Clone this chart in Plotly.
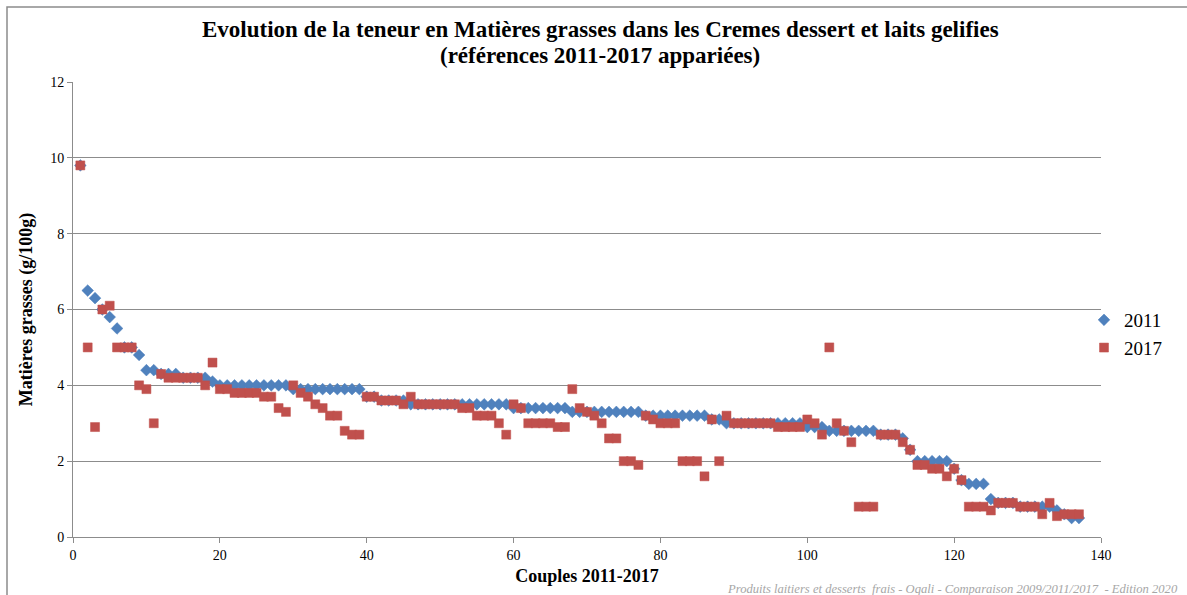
import plotly.graph_objects as go

couples = list(range(1, 138))

mg_2011 = (
    [9.8, 6.5, 6.3, 6.0, 5.8, 5.5, 5.0, 5.0, 4.8, 4.4,
     4.4, 4.3, 4.3, 4.3, 4.2, 4.2, 4.2, 4.2, 4.1]
    + [4.0] * 10          # 20-29
    + [3.9] * 10          # 30-39
    + [3.7, 3.7, 3.6, 3.6, 3.6, 3.6]   # 40-45
    + [3.5] * 14          # 46-59
    + [3.4] * 8           # 60-67
    + [3.3] * 10          # 68-77
    + [3.2] * 9           # 78-86
    + [3.1, 3.1]          # 87-88
    + [3.0] * 11          # 89-99
    + [2.9] * 3           # 100-102
    + [2.8] * 7           # 103-109
    + [2.7] * 3           # 110-112
    + [2.6, 2.3]          # 113-114
    + [2.0] * 5           # 115-119
    + [1.8, 1.5]          # 120-121
    + [1.4] * 3           # 122-124
    + [1.0]               # 125
    + [0.9] * 3           # 126-128
    + [0.8] * 5           # 129-133
    + [0.7, 0.6, 0.5, 0.5]  # 134-137
)

mg_2017 = (
    [9.8, 5.0, 2.9, 6.0, 6.1, 5.0, 5.0, 5.0, 4.0, 3.9,
     3.0, 4.3, 4.2, 4.2, 4.2, 4.2, 4.2, 4.0, 4.6, 3.9,
     3.9, 3.8, 3.8, 3.8, 3.8, 3.7, 3.7, 3.4, 3.3, 4.0,
     3.8, 3.7, 3.5, 3.4, 3.2, 3.2, 2.8, 2.7, 2.7, 3.7,
     3.7, 3.6, 3.6, 3.6, 3.5, 3.7, 3.5, 3.5, 3.5, 3.5,
     3.5, 3.5, 3.4, 3.4, 3.2, 3.2, 3.2, 3.0, 2.7, 3.5,
     3.4, 3.0, 3.0, 3.0, 3.0, 2.9, 2.9, 3.9, 3.4, 3.3,
     3.2, 3.0, 2.6, 2.6, 2.0, 2.0, 1.9, 3.2, 3.1, 3.0,
     3.0, 3.0, 2.0, 2.0, 2.0, 1.6, 3.1, 2.0, 3.2, 3.0,
     3.0, 3.0, 3.0, 3.0, 3.0, 2.9, 2.9, 2.9, 2.9, 3.1,
     3.0, 2.7, 5.0, 3.0, 2.8, 2.5, 0.8, 0.8, 0.8, 2.7,
     2.7, 2.7, 2.5, 2.3, 1.9, 1.9, 1.8, 1.8, 1.6, 1.8,
     1.5, 0.8, 0.8, 0.8, 0.7, 0.9, 0.9, 0.9, 0.8, 0.8,
     0.8, 0.6, 0.9, 0.55, 0.6, 0.6, 0.6]
)

x_ticks = [0, 20, 40, 60, 80, 100, 120, 140]
y_ticks = [0, 2, 4, 6, 8, 10, 12]

title_line1 = "Evolution de la teneur en Matières grasses dans les Cremes dessert et laits gelifies"
title_line2 = "(références 2011-2017 appariées)"
x_title = "Couples 2011-2017"
y_title = "Matières grasses (g/100g)"
footer = "Produits laitiers et desserts  frais - Oqali - Comparaison 2009/2011/2017  - Edition 2020"

SERIF = "Liberation Serif, DejaVu Serif, serif"
GRID = "#8c8c8c"

L, R, T, B = 73, 86, 82, 58
W, H = 1187, 595
PW, PH = W - L - R, H - T - B


def px_x(px):
    return (px - L) / PW


def px_y(py):
    return (H - B - py) / PH


fig = go.Figure()
fig.add_trace(go.Scatter(
    x=couples, y=mg_2011, mode="markers", name="2011",
    marker=dict(symbol="diamond", size=9, color="#4F81BD",
                line=dict(width=0.5, color="#4F81BD")),
))
fig.add_trace(go.Scatter(
    x=couples, y=mg_2017, mode="markers", name="2017",
    marker=dict(symbol="square", size=9, color="#C0504D",
                line=dict(width=0.5, color="#C0504D")),
))

fig.update_layout(
    width=W, height=H,
    margin=dict(l=L, r=R, t=T, b=B),
    paper_bgcolor="white", plot_bgcolor="white",
    font=dict(family=SERIF, color="black"),
    showlegend=True,
    legend=dict(x=px_x(1084), y=px_y(334), xanchor="left", yanchor="middle",
                font=dict(family=SERIF, size=19, color="black"),
                bgcolor="rgba(0,0,0,0)", itemwidth=30, tracegroupgap=2),
    xaxis=dict(range=[0, 140], tickvals=x_ticks, ticks="outside", ticklen=5,
               tickcolor=GRID, showline=True, linecolor=GRID, linewidth=1,
               showgrid=False, zeroline=False,
               tickfont=dict(family=SERIF, size=14, color="black"),
               title=dict(text="<b>" + x_title + "</b>", standoff=7,
                          font=dict(family=SERIF, size=18, color="black"))),
    yaxis=dict(range=[0, 12], tickvals=y_ticks, ticks="outside", ticklen=5,
               tickcolor=GRID, showline=True, linecolor=GRID, linewidth=1,
               showgrid=True, gridcolor=GRID, gridwidth=1, zeroline=False,
               tickfont=dict(family=SERIF, size=14, color="black"),
               title=dict(text="<b>" + y_title + "</b>", standoff=12,
                          font=dict(family=SERIF, size=18, color="black"))),
)

# title, two lines placed individually to match the tight line spacing
fig.add_annotation(text="<b>" + title_line1 + "</b>", xref="paper", yref="paper",
                   x=px_x(600), y=px_y(30), xanchor="center", yanchor="middle",
                   showarrow=False, font=dict(family=SERIF, size=23, color="black"))
fig.add_annotation(text="<b>" + title_line2 + "</b>", xref="paper", yref="paper",
                   x=px_x(600), y=px_y(55), xanchor="center", yanchor="middle",
                   showarrow=False, font=dict(family=SERIF, size=23, color="black"))

# outer chart border (as in the source spreadsheet chart)
fig.add_shape(type="rect", xref="paper", yref="paper",
              x0=px_x(7), x1=px_x(1195), y0=px_y(600), y1=px_y(7),
              line=dict(color="#8c8c8c", width=1.5), fillcolor="rgba(0,0,0,0)",
              layer="below")

fig.add_annotation(text="<i>" + footer + "</i>", xref="paper", yref="paper",
                   x=px_x(1180), y=px_y(589), xanchor="right", yanchor="middle",
                   showarrow=False,
                   font=dict(family=SERIF, size=12.6, color="#a6a6a6"))

fig.write_html("out.html", config={"displayModeBar": False},
               post_script="document.body.style.margin='0';document.body.style.padding='0';")
